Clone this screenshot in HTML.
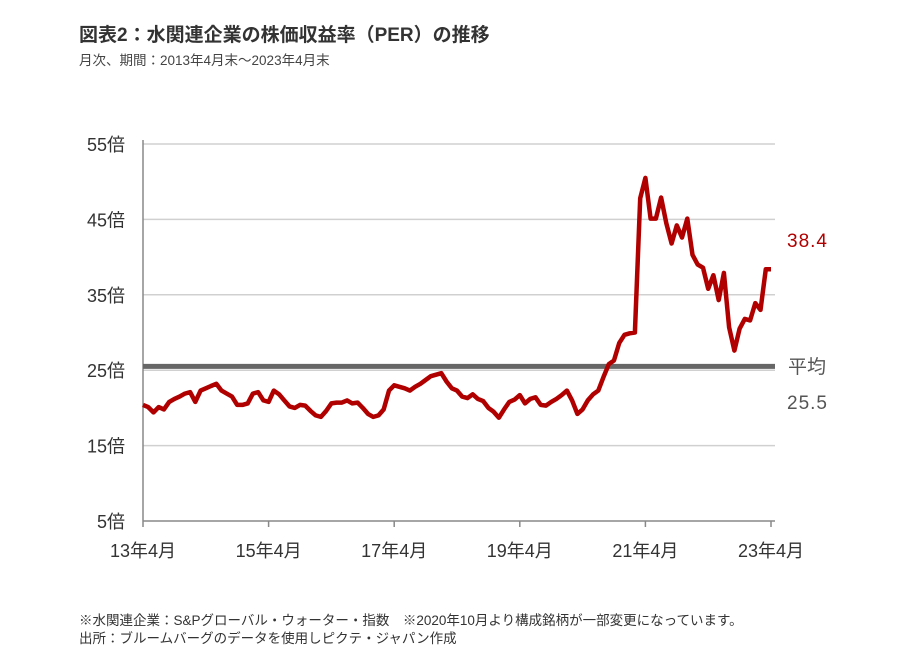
<!DOCTYPE html>
<html><head><meta charset="utf-8"><style>
body{margin:0;background:#fff;font-family:"Liberation Sans","Noto Sans CJK JP",sans-serif;}
#wrap{position:relative;width:902px;height:671px;overflow:hidden;}
.t{position:absolute;white-space:nowrap;}
</style></head><body>
<div id="wrap">
<div class="t" style="left:79px;top:20px;font-size:19px;font-weight:bold;color:#333;">図表2：水関連企業の株価収益率（PER）の推移</div>
<div class="t" style="left:79px;top:49px;font-size:13.5px;color:#444;">月次、期間：2013年4月末～2023年4月末</div>
<svg id="chart" width="902" height="671" style="position:absolute;left:0;top:0"></svg>
<div class="t" style="left:79px;top:609px;font-size:13.5px;color:#333;">※水関連企業：S&amp;Pグローバル・ウォーター・指数　※2020年10月より構成銘柄が一部変更になっています。</div>
<div class="t" style="left:79px;top:627px;font-size:13.5px;color:#333;">出所：ブルームバーグのデータを使用しピクテ・ジャパン作成</div>
</div>
<script>
const yTicks=[5,15,25,35,45,55];
const xTickLabels=["13年4月","15年4月","17年4月","19年4月","21年4月","23年4月"];
const xTickMonths=[0,24,48,72,96,120];
const averageValue=25.5;
const lastValueLabel="38.4";
const per=[20.4,20.1,19.4,20.1,19.8,20.8,21.2,21.5,21.9,22.1,20.8,22.3,22.6,22.9,23.2,22.3,21.9,21.5,20.4,20.4,
20.6,21.9,22.1,21.0,20.8,22.3,21.8,21.0,20.2,20.0,20.4,20.3,19.6,19.0,18.8,19.6,20.6,20.7,20.7,21.0,
20.6,20.7,20.0,19.2,18.8,19.0,19.8,22.3,23.0,22.8,22.6,22.3,22.8,23.2,23.7,24.2,24.4,24.6,23.5,22.6,
22.3,21.5,21.3,21.8,21.2,20.9,20.0,19.5,18.7,19.8,20.8,21.1,21.7,20.6,21.2,21.4,20.4,20.3,20.8,21.2,
21.7,22.3,21.0,19.2,19.8,21.0,21.8,22.3,24.1,25.8,26.3,28.6,29.7,29.9,30.0,47.8,50.5,45.1,45.1,47.9,
44.5,41.8,44.2,42.6,45.1,40.3,39.0,38.6,35.8,37.6,34.3,37.9,30.7,27.6,30.5,31.8,31.6,33.9,33.0,38.4,38.4];
const svg=document.getElementById('chart');
const NS='http://www.w3.org/2000/svg';
const X0=143,X1=771,Y0=521,Y1=144;
const xs=m=>X0+(X1-X0)*m/120;
const ys=v=>Y0-(Y0-Y1)*(v-5)/50;
function mk(tag,attrs,txt){const e=document.createElementNS(NS,tag);for(const k in attrs)e.setAttribute(k,attrs[k]);if(txt!==undefined)e.textContent=txt;svg.appendChild(e);return e;}
yTicks.forEach(v=>{
  if(v>5){const g=mk('line',{x1:X0,x2:775,y1:ys(v),y2:ys(v),stroke:'#d0d0d0','stroke-width':1.5});
  
  }
  const t=mk('text',{x:125,y:ys(v)+7,'text-anchor':'end','font-size':18,fill:'#333','font-family':'"Liberation Sans","Noto Sans CJK JP",sans-serif'},v+'倍');
  
  
});
const ax=mk('line',{x1:X0,x2:X0,y1:Y1-4,y2:Y0,stroke:'#888','stroke-width':1.5});


const bx=mk('line',{x1:X0,x2:775,y1:Y0,y2:Y0,stroke:'#888','stroke-width':1.5});


xTickMonths.forEach((m,i)=>{
  const tk=mk('line',{x1:xs(m),x2:xs(m),y1:Y0,y2:Y0+6,stroke:'#888','stroke-width':1.5});
  
  
  const t=mk('text',{x:xs(m),y:Y0+36,'text-anchor':'middle','font-size':18,fill:'#333','font-family':'"Liberation Sans","Noto Sans CJK JP",sans-serif'},xTickLabels[i]);
  
  
});
const av=mk('line',{x1:X0,x2:775,y1:ys(averageValue),y2:ys(averageValue),stroke:'#666','stroke-width':5});


const pts=per.map((v,i)=>xs(i).toFixed(1)+','+ys(v).toFixed(1)).join(' ');
const pl=mk('polyline',{points:pts,fill:'none',stroke:'#b00000','stroke-width':4.5,'stroke-linejoin':'round'});


const f='"Liberation Sans","Noto Sans CJK JP",sans-serif';
const l1=mk('text',{x:787,y:247,'font-size':19,fill:'#b00000','font-family':f,'letter-spacing':'1'},lastValueLabel);


const l2=mk('text',{x:788,y:373,'font-size':19,fill:'#555','font-family':f},'平均');


const l3=mk('text',{x:787,y:409,'font-size':19,fill:'#555','font-family':f,'letter-spacing':'1'},averageValue.toFixed(1));


</script>
</body></html>
